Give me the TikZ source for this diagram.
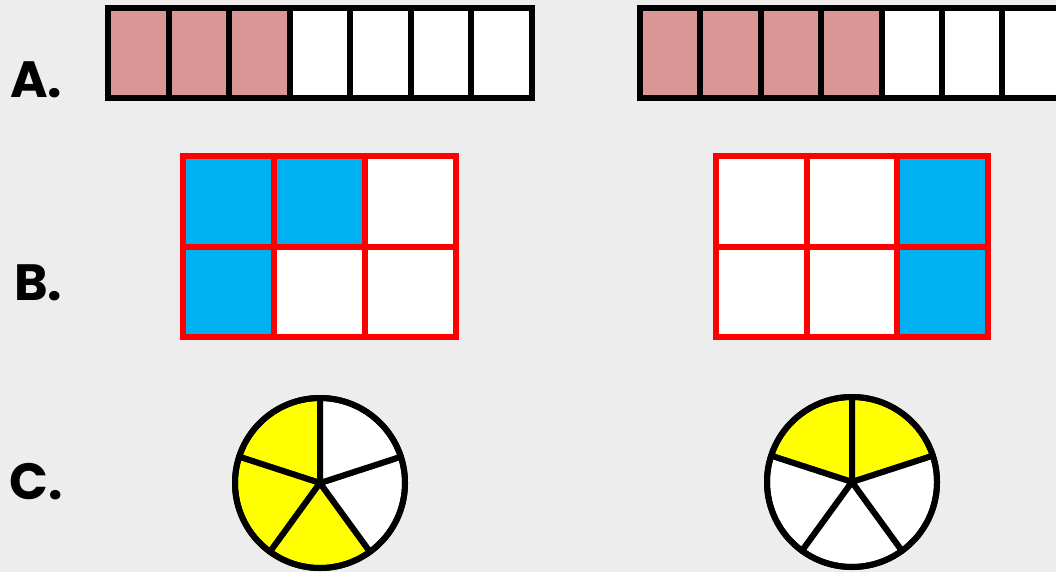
\documentclass[tikz,border=0pt]{standalone}
\usepackage{fontspec}
\usepackage{tikz}
\usetikzlibrary{positioning}
\newfontfamily\rowfont{Poppins}
\definecolor{sheetbg}{HTML}{EDEDED}
\definecolor{barpink}{HTML}{DA9694}
\definecolor{gridblue}{HTML}{00B0F0}
\definecolor{gridred}{HTML}{FF0000}
\definecolor{pieyellow}{HTML}{FFFF00}
\tikzset{
  rowlabel/.style={anchor=base west,inner sep=0pt,font=\rowfont\bfseries\fontsize{51}{58}\selectfont},
  barcell/.style={draw=black,line width=6pt,fill=white},
  gridcell/.style={draw=gridred,line width=6pt,fill=white},
  slice/.style={draw=black,line width=6pt,fill=white,line join=round},
}
\begin{document}
\begin{tikzpicture}[x=1pt,y=-1pt]
\useasboundingbox (0,0) rectangle (1056,572);
\fill[sheetbg] (0,0) rectangle (1056,572);
\clip (0,0) rectangle (1056,572);
% row labels
\node[rowlabel] (labelA) at (10,98) {A.};
\node[rowlabel] (labelB) at (14,300) {B.};
\node[rowlabel] (labelC) at (9,499) {C.};
% A: two strips of seven
\foreach \i/\c in {0/barpink,1/barpink,2/barpink,3/white,4/white,5/white,6/white}
  \draw[barcell,fill=\c] (108+\i*60.5,8) rectangle ++(60.5,90);
\foreach \i/\c in {0/barpink,1/barpink,2/barpink,3/barpink,4/white,5/white,6/white}
  \draw[barcell,fill=\c] (640+\i*60.4,8) rectangle ++(60.4,90);
% B: two 3x2 grids
\foreach \i/\j/\c in {0/0/gridblue,1/0/gridblue,2/0/white,0/1/gridblue,1/1/white,2/1/white}
  \draw[gridcell,fill=\c] (183+\i*91,156+\j*90.5) rectangle ++(91,90.5);
\foreach \i/\j/\c in {0/0/white,1/0/white,2/0/gridblue,0/1/white,1/1/white,2/1/gridblue}
  \draw[gridcell,fill=\c] (716+\i*90.7,156+\j*90.5) rectangle ++(90.7,90.5);
% C: two pies of five
\coordinate (pieL) at (320,483);
\coordinate (pieR) at (852,482);
\foreach \a/\c in {90/pieyellow,162/pieyellow,234/pieyellow,306/white,18/white}
  \draw[slice,fill=\c] (pieL) -- ++(\a:85pt) arc[start angle=\a,delta angle=72,radius=85pt] -- cycle;
\foreach \a/\c in {90/pieyellow,18/pieyellow,162/white,234/white,306/white}
  \draw[slice,fill=\c] (pieR) -- ++(\a:85pt) arc[start angle=\a,delta angle=72,radius=85pt] -- cycle;
\draw[slice,fill=none] (pieL) circle[radius=85pt];
\draw[slice,fill=none] (pieR) circle[radius=85pt];
\end{tikzpicture}
\end{document}
